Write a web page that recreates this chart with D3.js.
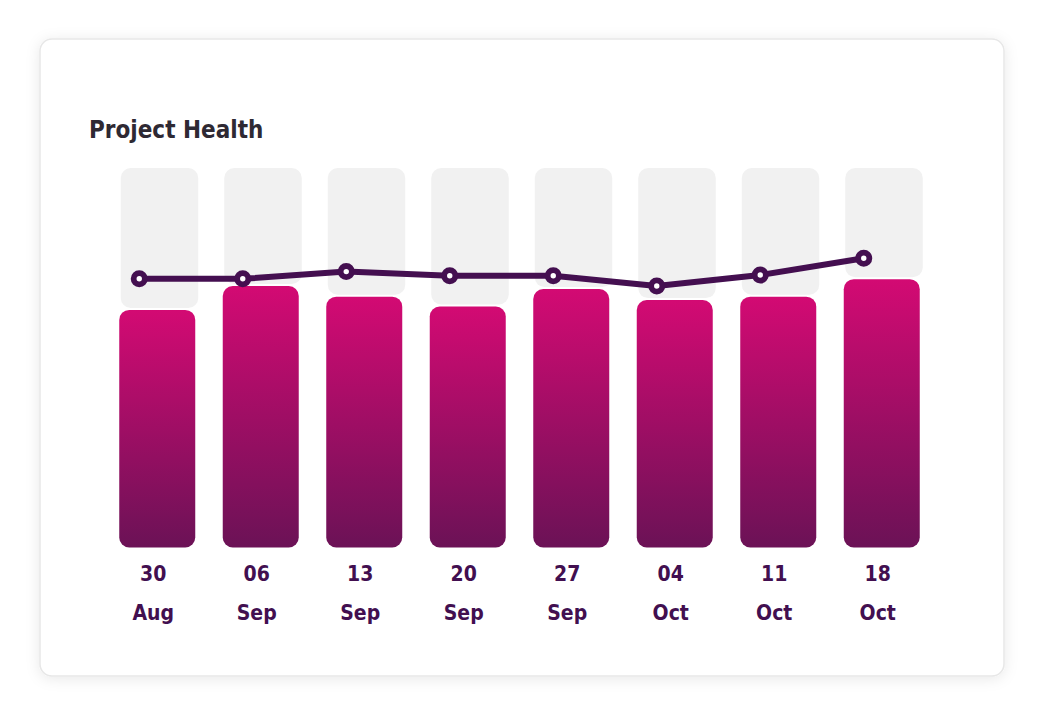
<!DOCTYPE html>
<html>
<head>
<meta charset="utf-8">
<script src="https://cdn.jsdelivr.net/npm/d3@7"></script>
<style>
  body { margin: 0; background: #ffffff; }
  text { font-family: "Liberation Sans Narrow", "DejaVu Sans Condensed", sans-serif; font-weight: bold; }
</style>
</head>
<body>
<svg></svg>
<script>
// weekly project health (bars) and trend line, in percent
let days = ["30", "06", "13", "20", "27", "04", "11", "18"]
let months = ["Aug", "Sep", "Sep", "Sep", "Sep", "Oct", "Oct", "Oct"]
let healthValues = [62.6, 68.9, 66.1, 63.5, 68.1, 65.2, 66.1, 70.7]
let trendValues = [70.8, 70.8, 72.7, 71.6, 71.6, 68.9, 71.8, 76.2]
let maxValue = 100

let width = 1046
let height = 716

let svg = d3.select("svg")

let xScale
let yScale

let drawCanvas = () => {
    svg.attr("width", width)
    svg.attr("height", height)

    let defs = svg.append("defs")

    let shadow = defs.append("filter")
                     .attr("id", "card-shadow")
                     .attr("x", "-10%").attr("y", "-10%")
                     .attr("width", "120%").attr("height", "120%")
    shadow.append("feDropShadow")
          .attr("dx", 0).attr("dy", 2)
          .attr("stdDeviation", 7)
          .attr("flood-color", "#000")
          .attr("flood-opacity", 0.09)

    let grad = defs.append("linearGradient")
                   .attr("id", "bar-grad")
                   .attr("x1", 0).attr("y1", 0)
                   .attr("x2", 0).attr("y2", 1)
    grad.append("stop").attr("offset", "0%").attr("stop-color", "#d30a73")
    grad.append("stop").attr("offset", "100%").attr("stop-color", "#6b1256")

    svg.append("rect")
       .attr("x", 40).attr("y", 39)
       .attr("width", 964).attr("height", 637)
       .attr("rx", 12)
       .attr("fill", "#ffffff")
       .attr("stroke", "#e7e7e7")
       .attr("stroke-width", 1.5)
       .attr("filter", "url(#card-shadow)")

    svg.append("text")
       .attr("x", 89)
       .attr("y", 138)
       .attr("fill", "#2e2933")
       .style("font-size", "24px")
       .text("Project Health")
}

let generateScales = () => {
    xScale = d3.scaleBand()
               .domain(d3.range(days.length))
               .range([104.5, 934.5])
               .paddingInner(0.2657)
               .paddingOuter(0.1425)

    yScale = d3.scaleLinear()
               .domain([0, maxValue])
               .range([547.5, 168])
}

let drawBars = () => {
    let bw = xScale.bandwidth()

    // grey remainder up to 100%
    svg.selectAll(".rest")
       .data(healthValues)
       .enter()
       .append("rect")
       .attr("class", "rest")
       .attr("x", (d, i) => xScale(i) + 1.5)
       .attr("y", yScale(maxValue))
       .attr("width", bw + 1.5)
       .attr("height", (d) => yScale(d) - 2 - yScale(maxValue))
       .attr("rx", 10)
       .attr("fill", "#f1f1f1")

    svg.selectAll(".bar")
       .data(healthValues)
       .enter()
       .append("rect")
       .attr("class", "bar")
       .attr("x", (d, i) => xScale(i))
       .attr("y", (d) => yScale(d))
       .attr("width", bw)
       .attr("height", (d) => yScale(0) - yScale(d))
       .attr("rx", 10)
       .attr("fill", "url(#bar-grad)")
}

let drawLine = () => {
    let lx = (i) => xScale(i) + 20

    let line = d3.line()
                 .x((d, i) => lx(i))
                 .y((d) => yScale(d))

    svg.append("path")
       .datum(trendValues)
       .attr("d", line)
       .attr("fill", "none")
       .attr("stroke", "#440f50")
       .attr("stroke-width", 6)
       .attr("stroke-linejoin", "round")

    svg.selectAll(".dot")
       .data(trendValues)
       .enter()
       .append("circle")
       .attr("class", "dot")
       .attr("cx", (d, i) => lx(i))
       .attr("cy", (d) => yScale(d))
       .attr("r", 5.6)
       .attr("fill", "#ffffff")
       .attr("stroke", "#440f50")
       .attr("stroke-width", 5.8)
}

let drawLabels = () => {
    let cx = (i) => xScale(i) + xScale.bandwidth() / 2 - 4

    svg.selectAll(".day")
       .data(days)
       .enter()
       .append("text")
       .attr("class", "day")
       .attr("x", (d, i) => cx(i))
       .attr("y", 581)
       .attr("text-anchor", "middle")
       .attr("fill", "#420f50")
       .style("font-size", "21px")
       .text((d) => d)

    svg.selectAll(".month")
       .data(months)
       .enter()
       .append("text")
       .attr("class", "month")
       .attr("x", (d, i) => cx(i))
       .attr("y", 620)
       .attr("text-anchor", "middle")
       .attr("fill", "#420f50")
       .style("font-size", "21px")
       .text((d) => d)
}

drawCanvas()
generateScales()
drawBars()
drawLine()
drawLabels()
</script>
</body>
</html>
